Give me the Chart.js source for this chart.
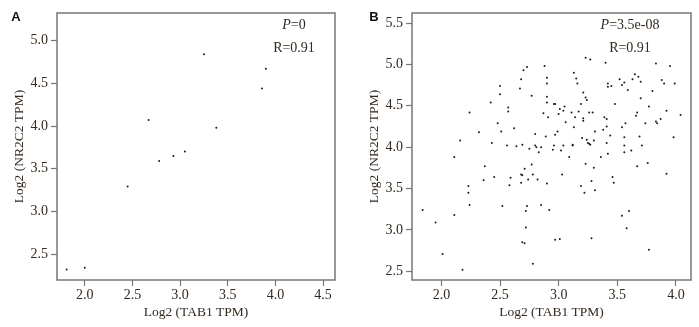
<!DOCTYPE html>
<html>
<head>
<meta charset="utf-8">
<script src="https://cdn.jsdelivr.net/npm/chart.js@4.4.1/dist/chart.umd.min.js"></script>
<style>
  html, body { margin: 0; padding: 0; background: #fff; }
  body { width: 699px; height: 327px; position: relative; overflow: hidden; }
  .panel { position: absolute; top: 0; height: 327px; }
  #panelA { left: 0; width: 345px; }
  #panelB { left: 355px; width: 344px; }
</style>
</head>
<body>
<div class="panel" id="panelA"><canvas id="chartA"></canvas></div>
<div class="panel" id="panelB"><canvas id="chartB"></canvas></div>
<script>
// Panel A: TAB1 vs NR2C2 (log2 TPM)
const tab1A  = [1.81, 2.00, 2.45, 2.67, 2.78, 2.93, 3.05, 3.25, 3.38, 3.86, 3.90];
const nr2c2A = [2.32, 2.34, 3.29, 4.07, 3.59, 3.65, 3.70, 4.84, 3.98, 4.44, 4.67];

// Panel B: TAB1 vs NR2C2 (log2 TPM)
const tab1B = [
  1.84, 1.95, 2.01, 2.11, 2.11, 2.16, 2.18, 2.23, 2.23, 2.24, 2.24, 2.32, 2.36, 2.37, 2.42,
  2.43, 2.45, 2.48, 2.50, 2.50, 2.51, 2.52, 2.56, 2.57, 2.57, 2.58, 2.59, 2.62, 2.64, 2.67,
  2.68, 2.68, 2.68, 2.69, 2.69, 2.69, 2.70, 2.71, 2.71, 2.72, 2.72, 2.73, 2.73, 2.74, 2.75,
  2.77, 2.77, 2.78, 2.78, 2.80, 2.80, 2.81, 2.82, 2.83, 2.85, 2.85, 2.87, 2.88, 2.89, 2.90,
  2.90, 2.90, 2.90, 2.90, 2.91, 2.92, 2.95, 2.96, 2.96, 2.97, 2.97, 2.97, 2.99, 3.00, 3.01,
  3.01, 3.02, 3.03, 3.04, 3.04, 3.05, 3.06, 3.09, 3.11, 3.12, 3.12, 3.13, 3.13, 3.14, 3.15,
  3.16, 3.17, 3.19, 3.19, 3.20, 3.21, 3.21, 3.21, 3.22, 3.23, 3.23, 3.23, 3.24, 3.24, 3.25,
  3.26, 3.26, 3.27, 3.27, 3.28, 3.28, 3.29, 3.30, 3.30, 3.31, 3.31, 3.36, 3.38, 3.39, 3.40,
  3.41, 3.41, 3.41, 3.42, 3.42, 3.42, 3.44, 3.45, 3.46, 3.47, 3.48, 3.52, 3.54, 3.54, 3.54,
  3.56, 3.56, 3.56, 3.56, 3.57, 3.58, 3.59, 3.60, 3.62, 3.63, 3.65, 3.66, 3.67, 3.67, 3.68,
  3.69, 3.70, 3.70, 3.71, 3.74, 3.76, 3.77, 3.77, 3.80, 3.83, 3.83, 3.84, 3.87, 3.88, 3.90,
  3.92, 3.92, 3.95, 3.98, 3.99, 4.04, 4.15, 4.15
];
const nr2c2B = [
  3.24, 3.09, 2.71, 3.18, 3.88, 4.08, 2.52, 3.53, 3.45, 4.42, 3.30, 4.18, 3.60, 3.77, 4.54,
  4.05, 3.64, 4.29, 4.74, 4.64, 4.19, 3.29, 4.02, 4.48, 4.43, 3.54, 3.63, 4.23, 4.01, 4.71,
  4.82, 3.67, 3.57, 3.66, 4.03, 2.85, 4.93, 2.84, 3.74, 3.03, 3.23, 3.29, 4.97, 3.61, 3.98,
  3.79, 4.62, 3.67, 2.59, 4.16, 4.02, 4.00, 3.61, 3.94, 4.00, 3.30, 4.41, 4.98, 4.13, 4.84,
  4.77, 4.61, 4.54, 3.56, 4.36, 3.24, 3.97, 4.52, 4.02, 4.15, 2.88, 4.52, 4.19, 4.40, 4.46,
  2.89, 3.96, 3.67, 4.44, 4.02, 4.49, 4.30, 3.88, 4.42, 4.02, 4.03, 4.24, 4.90, 4.36, 4.83,
  4.77, 4.43, 4.52, 3.53, 4.11, 4.35, 4.32, 4.66, 3.45, 3.80, 5.08, 4.60, 4.57, 4.09, 4.05,
  4.42, 4.04, 5.06, 4.03, 3.59, 2.90, 4.42, 3.75, 4.08, 4.19, 3.48, 3.88, 4.21, 4.36, 5.02,
  4.34, 4.25, 4.05, 3.92, 4.73, 4.77, 4.14, 4.74, 3.64, 3.57, 4.52, 4.82, 3.17, 4.24, 4.75,
  4.78, 3.94, 4.02, 4.12, 4.29, 3.02, 4.69, 3.23, 3.96, 4.82, 4.88, 4.38, 3.77, 4.42, 4.85,
  4.13, 4.79, 4.59, 4.02, 4.29, 3.81, 4.49, 2.76, 4.68, 4.31, 5.01, 4.29, 4.34, 4.81, 4.77,
  3.68, 4.44, 4.98, 4.12, 4.77, 4.39, 5.43, 5.27
];

const serif = "'Liberation Serif', 'Times New Roman', serif";
const textColor = '#33291f';
const frameColor = '#777777';

// box around the plot area, panel letter and the P / R note
const framePlugin = {
  id: 'frame',
  afterDraw(chart, args, opts) {
    const { ctx, chartArea: a } = chart;
    ctx.save();
    ctx.strokeStyle = frameColor;
    ctx.lineWidth = 1.5;
    ctx.strokeRect(a.left, a.top, a.right - a.left, a.bottom - a.top);

    ctx.fillStyle = '#111';
    ctx.font = "bold 13px 'Liberation Sans', Arial, sans-serif";
    ctx.textAlign = 'center';
    ctx.textBaseline = 'middle';
    ctx.fillText(opts.letter, opts.letterX, 17);

    // "P=..." with italic P
    ctx.fillStyle = textColor;
    ctx.font = 'italic 14px ' + serif;
    const pW = ctx.measureText('P').width;
    ctx.font = '14px ' + serif;
    const restW = ctx.measureText(opts.pText).width;
    let x = opts.noteX - (pW + restW) / 2;
    ctx.textAlign = 'left';
    ctx.font = 'italic 14px ' + serif;
    ctx.fillText('P', x, 25);
    ctx.font = '14px ' + serif;
    ctx.fillText(opts.pText, x + pW, 25);
    ctx.textAlign = 'center';
    ctx.fillText(opts.rText, opts.noteX, 48);
    ctx.restore();
  }
};

function scatter(id, xs, ys, xr, yr, note) {
  const points = xs.map((v, i) => ({ x: v, y: ys[i] }));
  const axis = (range, title, isY) => ({
    type: 'linear',
    min: range[0],
    max: range[1],
    afterFit(scale) {
      if (isY) scale.width = 57; else scale.height = 47;
    },
    grid: {
      drawOnChartArea: false,
      drawTicks: true,
      tickLength: 6,
      tickWidth: 1.2,
      tickColor: frameColor
    },
    border: { display: false },
    ticks: {
      stepSize: 0.5,
      includeBounds: false,
      color: textColor,
      padding: isY ? 3 : 1,
      font: { family: serif, size: 14 },
      callback: v => v.toFixed(1)
    },
    title: {
      display: true,
      text: title,
      color: textColor,
      font: { family: serif, size: 13.5 },
      padding: isY ? { top: 11, bottom: 0 } : { top: 0, bottom: 6 }
    }
  });

  return new Chart(document.getElementById(id), {
    type: 'scatter',
    data: {
      datasets: [{
        data: points,
        pointRadius: 1,
        pointBorderWidth: 0,
        pointBackgroundColor: '#1a1a1a'
      }]
    },
    options: {
      responsive: true,
      maintainAspectRatio: false,
      animation: false,
      layout: { padding: { top: 13, right: note.padRight, bottom: 0, left: 0 } },
      scales: {
        x: axis(xr, 'Log2 (TAB1 TPM)', false),
        y: axis(yr, 'Log2 (NR2C2 TPM)', true)
      },
      plugins: {
        legend: { display: false },
        tooltip: { enabled: false },
        frame: note
      }
    },
    plugins: [framePlugin]
  });
}

scatter('chartA', tab1A, nr2c2A, [1.709, 4.625], [2.196, 5.324],
  { letter: 'A', letterX: 16, pText: '=0', rText: 'R=0.91', noteX: 294, padRight: 10 });
scatter('chartB', tab1B, nr2c2B, [1.749, 4.129], [2.395, 5.621],
  { letter: 'B', letterX: 19, pText: '=3.5e-08', rText: 'R=0.91', noteX: 275, padRight: 8 });
</script>
</body>
</html>
